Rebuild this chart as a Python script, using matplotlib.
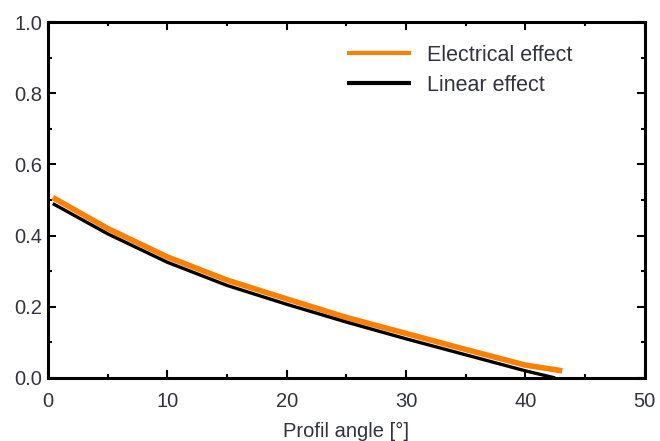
import matplotlib
matplotlib.use("Agg")
import matplotlib.pyplot as plt
from matplotlib.ticker import MultipleLocator

plt.rcParams['font.family'] = ['Liberation Sans', 'DejaVu Sans']

angle_elec = [0.4, 5, 10, 15, 20, 25, 30, 35, 40, 43.1]
electrical = [0.507, 0.42, 0.34, 0.275, 0.222, 0.17, 0.125, 0.08, 0.036, 0.02]
angle_lin = [0.4, 5, 10, 15, 20, 25, 30, 35, 40, 42.5]
linear = [0.49, 0.405, 0.325, 0.26, 0.207, 0.157, 0.11, 0.065, 0.02, 0.0]

xticks = [0, 10, 20, 30, 40, 50]
yticks = [0.0, 0.2, 0.4, 0.6, 0.8, 1.0]

FS = 14.5

fig = plt.figure(figsize=(6.6, 4.41), dpi=100)
ax = fig.add_axes([0.0727, 0.143, 0.904, 0.807])

ax.plot(angle_elec, electrical, color='#ff8000', lw=4.0, label='Electrical effect', solid_capstyle='butt')
ax.plot(angle_lin, linear, color='black', lw=2.4, label='Linear effect', solid_capstyle='butt')

ax.set_xlim(0, 50)
ax.set_ylim(0, 1.0)
ax.set_xticks(xticks)
ax.set_yticks(yticks)
ax.set_xticklabels([str(v) for v in xticks])
ax.set_yticklabels([f"{v:.1f}" for v in yticks])
ax.xaxis.set_minor_locator(MultipleLocator(5))
ax.yaxis.set_minor_locator(MultipleLocator(0.1))

ax.tick_params(which='both', direction='in', top=True, right=True, width=1.5,
               colors='black', labelcolor='#333340', labelsize=FS)
ax.tick_params(which='major', length=6)
ax.tick_params(which='minor', length=3)
ax.tick_params(axis='y', pad=4)
ax.tick_params(axis='x', pad=10)

for s in ax.spines.values():
    s.set_linewidth(2.2)

ax.set_xlabel('Profil angle [°]', fontsize=FS, color='#333340', labelpad=8)

leg = ax.legend(loc='upper right', bbox_to_anchor=(0.912, 0.99), frameon=False,
                fontsize=15.5, handlelength=3.0, handletextpad=0.75, labelspacing=0.42)
for t in leg.get_texts():
    t.set_color('#333340')
for h in leg.get_lines():
    h.set_linewidth(3.0)

fig.savefig('out.png', dpi=100, facecolor='white')
